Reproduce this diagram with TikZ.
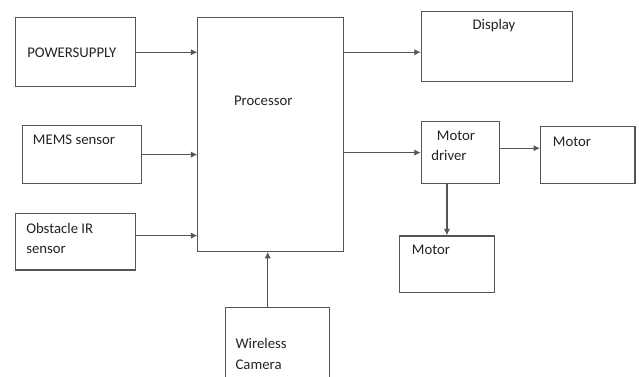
\documentclass[tikz,border=0pt]{standalone}
\usepackage{fontspec}
\setmainfont{Carlito}
\usetikzlibrary{arrows.meta}
\definecolor{linegray}{RGB}{85,85,85}
\definecolor{textdark}{RGB}{35,35,35}

\begin{document}
\begin{tikzpicture}[x=0.025cm, y=-0.025cm,
    box/.style={draw=linegray, line width=0.85pt, anchor=north west, inner sep=0pt},
    lbl/.style={text=textdark, anchor=west, align=left, inner sep=0pt,
      font=\fontsize{10.5}{14.6}\selectfont},
    arr/.style={draw=linegray, line width=0.85pt, -{Latex[length=1.6mm,width=1.6mm]}}]
    \useasboundingbox (0,0) rectangle (639,376);
    % blocks
    \node[box, minimum width=120.6*0.025cm, minimum height=68.7*0.025cm] (power) at (14.7,17.3) {};
    \node[box, minimum width=118.7*0.025cm, minimum height=57.4*0.025cm] (mems) at (22,125.3) {};
    \node[box, minimum width=120.6*0.025cm, minimum height=56.6*0.025cm] (obst) at (14.7,212.7) {};
    \node[box, minimum width=146*0.025cm, minimum height=233.4*0.025cm] (proc) at (197.3,17.3) {};
    \node[box, minimum width=103.4*0.025cm, minimum height=75*0.025cm] (cam) at (225.3,307) {};
    \node[box, minimum width=151*0.025cm, minimum height=70*0.025cm] (disp) at (420.7,11) {};
    \node[box, minimum width=78.3*0.025cm, minimum height=62.6*0.025cm] (drv) at (420.7,120.7) {};
    \node[box, minimum width=94.3*0.025cm, minimum height=57*0.025cm] (motA) at (540,126.3) {};
    \node[box, minimum width=94.7*0.025cm, minimum height=56.7*0.025cm] (motB) at (399,235.3) {};
    % texts
    \node[lbl] (powertxt) at (27,53) {POWERSUPPLY};
    \node[lbl] (memstxt) at (32.7,140) {MEMS sensor};
    \node[lbl] (obsttxt) at (26,238.3) {Obstacle IR\\sensor};
    \node[lbl, anchor=center] (proctxt) at (263.3,101) {Processor};
    \node[lbl] (camtxt) at (235.3,353.7) {Wireless\\Camera};
    \node[lbl, anchor=center] (disptxt) at (494,26) {Display};
    \node[lbl] (drvtxt) at (431,146) {\hspace{0.14cm}Motor\\driver};
    \node[lbl] (motAtxt) at (552.7,141.7) {Motor};
    \node[lbl] (motBtxt) at (411.7,250.3) {Motor};
    % connections
    \foreach \src in {power,mems}
      \draw[arr] (\src.east) -- (\src.east -| proc.west);
    \draw[arr] ([yshift=0.15cm]obst.east) -- ([yshift=0.15cm]obst.east -| proc.west);
    \draw[arr] ([xshift=-0.08cm]cam.north -| proc.south) -- ([xshift=-0.08cm]proc.south);
    \draw[arr] (proc.east |- power.east) -- (disp.west |- power.east);
    \draw[arr] (proc.east |- drv.west) -- (drv.west);
    \draw[arr] ([yshift=0.11cm]drv.east) -- ([yshift=0.11cm]drv.east -| motA.west);
    \draw[arr] (drv.south -| motB.north) -- (motB.north);
\end{tikzpicture}
\end{document}
